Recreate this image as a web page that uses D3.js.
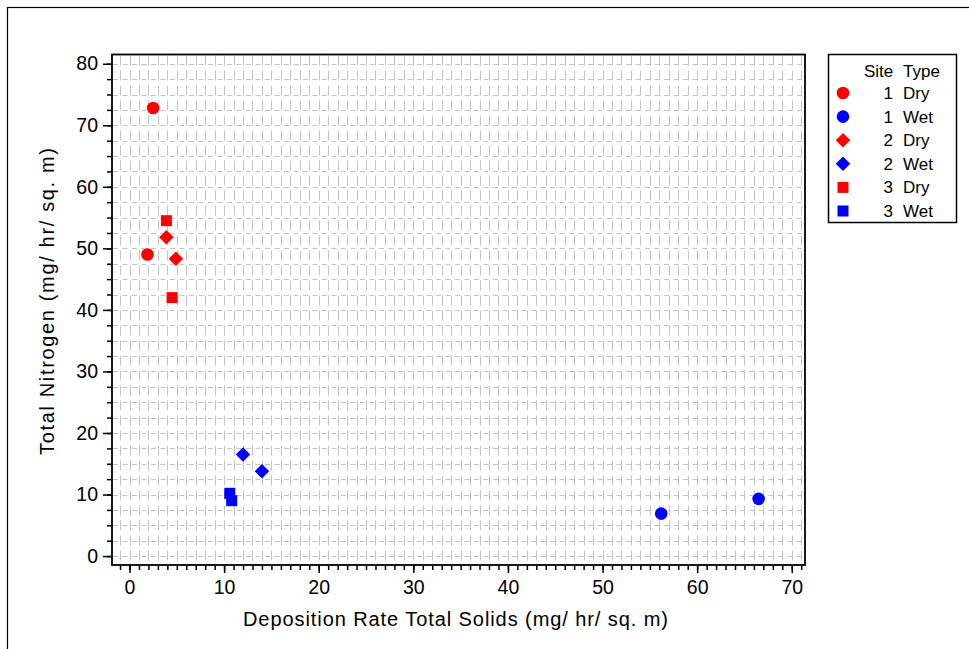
<!DOCTYPE html>
<html><head><meta charset="utf-8">
<script src="https://cdn.jsdelivr.net/npm/d3@7"></script>
<style>body{margin:0;background:#fff;}svg{display:block;font-family:"Liberation Sans",Arial,sans-serif;}</style>
</head><body><svg id="c" width="969" height="649"></svg>
<script>
const siteLabels = ["1","1","2","2","3","3"];
const typeLabels = ["Dry","Wet","Dry","Wet","Dry","Wet"];
const groupShapes = ["circle","circle","diamond","diamond","square","square"];
const groupColors = ["#ff0000","#0000ff","#ff0000","#0000ff","#ff0000","#0000ff"];
const depositionX = [[2.5,1.9],[56.2,66.5],[3.9,4.9],[12.0,14.0],[3.9,4.5],[10.6,10.8]];
const nitrogenY   = [[72.8,49.0],[6.9,9.3],[51.8,48.3],[16.5,13.8],[54.5,42.0],[10.2,9.0]];
const xTicks = [0,10,20,30,40,50,60,70];
const yTicks = [0,10,20,30,40,50,60,70,80];

const svg = d3.select("#c");
svg.append("rect").attr("x",7.5).attr("y",7.5).attr("width",980).attr("height",700)
  .attr("fill","none").attr("stroke","#000").attr("stroke-width",1.2);

const L=112, R=805, T=54.5, B=565;
const x = d3.scaleLinear().domain([-1.85,71.4]).range([L,R]);
const y = d3.scaleLinear().domain([-1.45,81.5]).range([B,T]);

const xMinor = d3.range(-1,72,1);
const yMinor = d3.range(0,81,2.5);
const px = v => Math.round(v)+0.5;

// grid
const g = svg.append("g");
g.selectAll("line.v").data(xMinor).join("line").attr("class","v")
  .attr("x1",d=>px(x(d))).attr("x2",d=>px(x(d))).attr("y1",T+1).attr("y2",B)
  .attr("stroke","#c4c4c4").attr("stroke-width",1).attr("stroke-dasharray","10,5");
g.selectAll("line.h").data(yMinor).join("line").attr("class","h")
  .attr("x1",L+1).attr("x2",R).attr("y1",d=>px(y(d))).attr("y2",d=>px(y(d)))
  .attr("stroke","#c4c4c4").attr("stroke-width",1).attr("stroke-dasharray","5,4.5");

// axes
const xAxisMinor = d3.axisBottom(x).tickValues(xMinor).tickSize(5).tickFormat("");
const xAxis = d3.axisBottom(x).tickValues(xTicks).tickSize(8).tickPadding(7).tickFormat(d3.format("d"));
const yAxisMinor = d3.axisLeft(y).tickValues(yMinor).tickSize(5).tickFormat("");
const yAxis = d3.axisLeft(y).tickValues(yTicks).tickSize(9).tickPadding(5).tickFormat(d3.format("d"));
function style(sel){sel.select(".domain").remove();sel.selectAll("line").attr("stroke","#000").attr("stroke-width",1.5);
  sel.selectAll("text").attr("font-size",19.5).attr("fill","#000").attr("font-family","Liberation Sans, Arial, sans-serif");}
svg.append("g").attr("transform",`translate(0,${B})`).call(xAxisMinor).call(style);
svg.append("g").attr("transform",`translate(0,${B})`).call(xAxis).call(style);
svg.append("g").attr("transform",`translate(${L},0)`).call(yAxisMinor).call(style);
svg.append("g").attr("transform",`translate(${L},0)`).call(yAxis).call(style);

svg.append("rect").attr("x",L).attr("y",T).attr("width",R-L).attr("height",B-T)
  .attr("fill","none").attr("stroke","#000").attr("stroke-width",1.8);

// titles
svg.append("text").attr("x",455.5).attr("y",626).attr("text-anchor","middle").attr("font-size",20)
  .attr("textLength",425).attr("lengthAdjust","spacing")
  .text("Deposition Rate Total Solids (mg/ hr/ sq. m)");
svg.append("text").attr("transform","translate(54,301.5) rotate(-90)").attr("text-anchor","middle").attr("font-size",20)
  .attr("textLength",307).attr("lengthAdjust","spacing")
  .text("Total Nitrogen (mg/ hr/ sq. m)");

// markers
const sym = {circle:d3.symbol().type(d3.symbolCircle).size(125),
  diamond:d3.symbol().type(d3.symbolSquare).size(105),
  square:d3.symbol().type(d3.symbolSquare).size(121)};
groupShapes.forEach((s,i)=>{
  const pts = depositionX[i].map((v,j)=>[v,nitrogenY[i][j]]);
  svg.append("g").selectAll("path").data(pts).join("path")
    .attr("d",sym[s]())
    .attr("transform",d=>`translate(${x(d[0])},${y(d[1])})`+(s==="diamond"?" rotate(45)":""))
    .attr("fill",groupColors[i]);
});

// legend
const lg = svg.append("g");
lg.append("rect").attr("x",828.5).attr("y",54.5).attr("width",128).attr("height",168)
  .attr("fill","#fff").attr("stroke","#000").attr("stroke-width",1.5);
lg.append("text").attr("x",864).attr("y",77).attr("font-size",17).text("Site");
lg.append("text").attr("x",903).attr("y",77).attr("font-size",17).text("Type");
groupShapes.forEach((s,i)=>{
  const yy = 93 + i*23.6;
  lg.append("path").attr("d",sym[s]()).attr("fill",groupColors[i])
    .attr("transform",`translate(843,${yy})`+(s==="diamond"?" rotate(45)":""));
  lg.append("text").attr("x",893).attr("y",yy+6).attr("text-anchor","end").attr("font-size",17).text(siteLabels[i]);
  lg.append("text").attr("x",903).attr("y",yy+6).attr("font-size",17).text(typeLabels[i]);
});
</script></body></html>
